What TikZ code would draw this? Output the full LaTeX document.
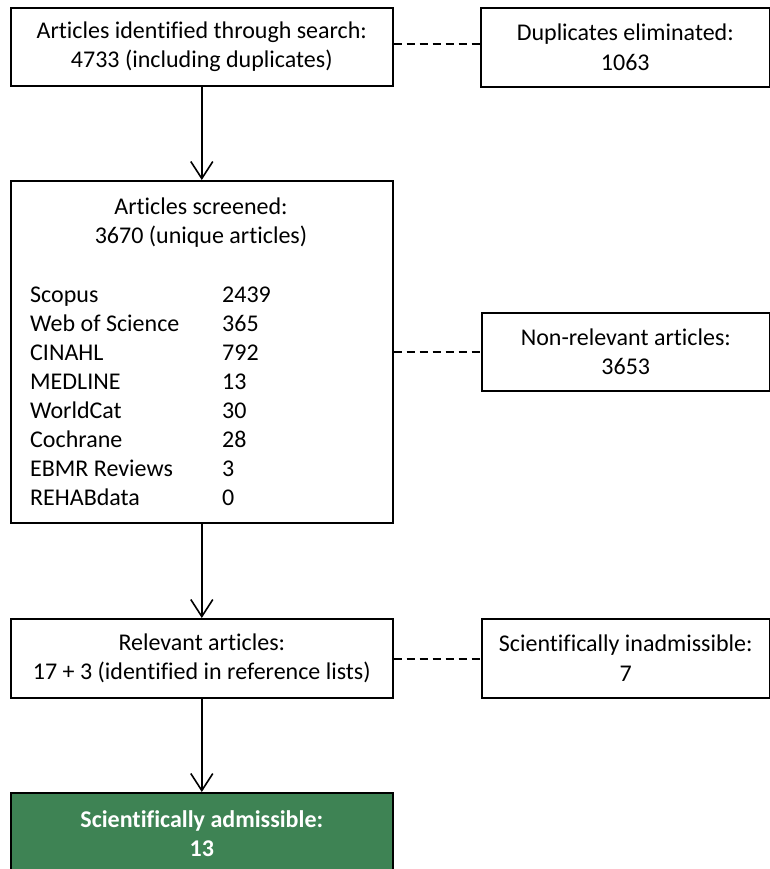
\documentclass[tikz,border=0pt]{standalone}
\usepackage{fontspec}
\setmainfont{Carlito}[Ligatures={NoCommon}]
\usetikzlibrary{arrows.meta}
\definecolor{admgreen}{RGB}{62,131,84}
\begin{document}
\begin{tikzpicture}[x=1pt,y=-1pt,
  box/.style={draw=black,line width=1.6pt,rectangle,inner sep=0pt,anchor=north west,align=center,
    font=\fontsize{24}{29.5}\selectfont},
  txt/.style={inner sep=0pt,font=\fontsize{24}{29}\selectfont},
  flow/.style={line width=1.6pt,-{Straight Barb[length=17pt,width=22pt,line width=1.6pt]}},
  link/.style={line width=1.5pt,dash pattern=on 8pt off 5pt}
]
\useasboundingbox (0,0) rectangle (770,869);

\node[box,minimum width=382pt,minimum height=78pt] (a) at (10,7)
  {Articles identified through search:\\4733 (including duplicates)};
\node[box,minimum width=289pt,minimum height=79pt] (b) at (480,7)
  {Duplicates eliminated:\\1063};
\node[box,minimum width=382pt,minimum height=342pt] (c) at (10,180) {};
\node[box,minimum width=288pt,minimum height=78pt] (d) at (481,312)
  {Non-relevant articles:\\3653};
\node[box,minimum width=382pt,minimum height=79pt] (e) at (10,618)
  {Relevant articles:\\17 + 3 (identified in reference lists)};
\node[box,minimum width=288pt,minimum height=79pt] (f) at (481,618)
  {Scientifically inadmissible:\\7};
\node[box,fill=admgreen,text=white,minimum width=382pt,minimum height=82pt,
  font=\fontsize{24}{29.5}\selectfont\bfseries] (g) at (10,792)
  {Scientifically admissible:\\13};

% contents of the screened box
\node[txt,anchor=base] (h1) at (201,214) {Articles screened:};
\node[txt,anchor=base] (h2) at (201,243) {3670 (unique articles)};
\foreach \lab/\num [count=\i from 0] in {Scopus/2439,Web of Science/365,CINAHL/792,MEDLINE/13,WorldCat/30,Cochrane/28,EBMR Reviews/3,REHABdata/0}{
  \node[txt,anchor=base west] (l\i) at (30,302+29*\i) {\lab};
  \node[txt,anchor=base west] (n\i) at (222,302+29*\i) {\num};
}

% connectors
\draw[flow] (a.south) -- (c.north);
\draw[flow] (c.south) -- (e.north);
\draw[flow] (e.south) -- (g.north);
\draw[link] ([yshift=3pt]a.east) -- ([yshift=3pt]a.east -| b.west);
\draw[link] (d.west -| c.east) -- (d.west);
\draw[link] ([yshift=-0.5pt]e.east) -- ([yshift=-0.5pt]e.east -| f.west);
\end{tikzpicture}
\end{document}
